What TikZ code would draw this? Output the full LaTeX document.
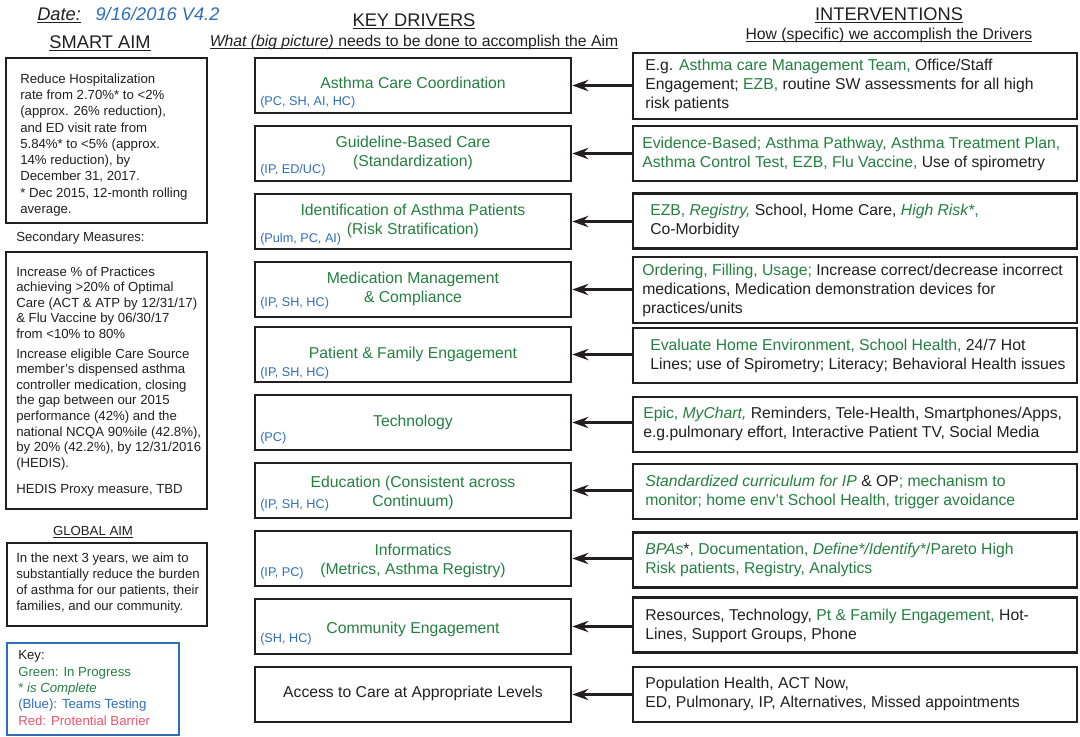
\documentclass[tikz,border=0pt]{standalone}
\usepackage{fontspec}
\setmainfont{Liberation Sans}
\usetikzlibrary{arrows.meta}

\definecolor{ink}{RGB}{35,31,32}
\definecolor{prog}{RGB}{36,128,64}
\definecolor{team}{RGB}{46,110,186}
\definecolor{barrier}{RGB}{236,84,104}

\newcommand{\grn}[1]{\textcolor{prog}{#1}}
\newcommand{\blu}[1]{\textcolor{team}{#1}}
% underline drawn at a fixed depth below the baseline
\newcommand{\ulx}[1]{\setbox0\hbox{#1}\rlap{\rule[-2pt]{\wd0}{0.7pt}}\box0}

\begin{document}
\begin{tikzpicture}[x=0.75pt,y=-0.75pt,
  header/.style={inner sep=0pt, text=ink, font=\fontsize{13.7}{16}\selectfont},
  subheader/.style={inner sep=0pt, text=ink, font=\fontsize{11.8}{14}\selectfont},
  driver/.style={draw=ink, line width=2pt, fill=white, minimum width=237pt,
    minimum height=41.25pt, inner sep=0pt},
  title/.style={inner sep=0pt, align=center, text=prog,
    font=\fontsize{11.8}{14.25}\selectfont},
  action/.style={draw=ink, line width=2pt, fill=white, minimum width=333pt,
    minimum height=41.25pt, inner sep=0pt},
  tall/.style={minimum height=49.5pt},
  actiontext/.style={anchor=west, inner sep=0pt, align=left, text=ink,
    font=\fontsize{11.8}{14.25}\selectfont},
  teamtag/.style={anchor=west, inner sep=0pt, text=team,
    font=\fontsize{9.5}{11}\selectfont},
  aimbox/.style={draw=ink, line width=2pt, fill=white, inner sep=0pt},
  aimtext/.style={anchor=west, align=left, inner sep=0pt, text=ink,
    font=\fontsize{9.9}{12.2}\selectfont},
  link/.style={draw=ink, line width=1.6pt,
    -{Stealth[length=12pt, width=8.5pt, inset=4pt]}}
]
\fill[white] (0,0) rectangle (1080,736);
\useasboundingbox (0,0) rectangle (1080,736);

% ---------- headings ----------
\node[header, anchor=west] (date) at (37,15)
  {\ulx{\textit{Date:}}\hspace{11pt}\textcolor{team}{\textit{9/16/2016 V4.2}}};
\node[header] (smarthead) at (100,43) {\ulx{SMART AIM}};
\node[header] (drvhead) at (414,21) {\ulx{KEY DRIVERS}};
\node[subheader] (drvsub) at (414,42)
  {\ulx{\textit{What (big picture)} needs to be done to accomplish the Aim}};
\node[header] (acthead) at (889,15) {\ulx{INTERVENTIONS}};
\node[subheader] (actsub) at (889,35)
  {\ulx{How (specific) we accomplish the Drivers}};

% ---------- left column: aims and key ----------
\node[aimbox, minimum width=150.75pt, minimum height=123.75pt] (smart) at (106.5,140.5) {};
\node[aimtext] (smarttxt) at (20,145) {Reduce Hospitalization\\
rate from 2.70\%* to <2\%\\
(approx. 26\% reduction),\\
and ED visit rate from\\
5.84\%* to <5\% (approx.\\
14\% reduction), by\\
December 31, 2017.\\
* Dec 2015, 12-month rolling\\
average.};

\node[aimtext] (sechead) at (16,238) {Secondary Measures:};
\node[aimbox, minimum width=150.75pt, minimum height=192.75pt] (second) at (106.5,380.5) {};
\node[aimtext, font=\fontsize{9.9}{11.7}\selectfont] (sectxt) at (16,381.5) {Increase \% of Practices\\
achieving >20\% of Optimal\\
Care (ACT \& ATP by 12/31/17)\\
\& Flu Vaccine by 06/30/17\\
from <10\% to 80\%\\[3pt]
Increase eligible Care Source\\
member's dispensed asthma\\
controller medication, closing\\
the gap between our 2015\\
performance (42\%) and the\\
national NCQA 90\%ile (42.8\%),\\
by 20\% (42.2\%), by 12/31/2016\\
(HEDIS).\\[8pt]
HEDIS Proxy measure, TBD};

\node[inner sep=0pt, text=ink, font=\fontsize{9.9}{12}\selectfont] (globalhead) at (93,532) {\ulx{GLOBAL AIM}};
\node[aimbox, minimum width=150pt, minimum height=62.25pt] (global) at (107,584.5) {};
\node[aimtext, font=\fontsize{9.9}{12}\selectfont] (globaltxt) at (16,583) {In the next 3 years, we aim to\\
substantially reduce the burden\\
of asthma for our patients, their\\
families, and our community.};

\node[draw=team, line width=1.5pt, fill=white, minimum width=129pt, minimum height=69pt, inner sep=0pt] (key) at (93,689) {};
\node[aimtext, font=\fontsize{9.9}{12.2}\selectfont] (keytxt) at (18,688) {Key:\\
\grn{Green: In Progress}\\
\grn{* \textit{is Complete}}\\
\blu{(Blue): Teams Testing}\\
\textcolor{barrier}{Red: Protential Barrier}};

% ---------- key drivers ----------
\node[driver] (d1) at (413,85.5) {};
\node[driver] (d2) at (413,153.5) {};
\node[driver] (d3) at (413,221.5) {};
\node[driver] (d4) at (413,289.5) {};
\node[driver] (d5) at (413,354.5) {};
\node[driver] (d6) at (413,422.5) {};
\node[driver] (d7) at (413,490.5) {};
\node[driver] (d8) at (413,558.5) {};
\node[driver] (d9) at (413,626.5) {};
\node[driver] (d10) at (413,694.5) {};

\node[title] (d1txt) at (413,82.5) {Asthma Care Coordination};
\node[title] (d2txt) at (413,152.5) {Guideline-Based Care\\(Standardization)};
\node[title] (d3txt) at (413,220.5) {Identification of Asthma Patients\\(Risk Stratification)};
\node[title] (d4txt) at (413,288.5) {Medication Management\\\& Compliance};
\node[title] (d5txt) at (413,354.5) {Patient \& Family Engagement};
\node[title] (d6txt) at (413,422.5) {Technology};
\node[title] (d7txt) at (413,493) {Education (Consistent across\\Continuum)};
\node[title] (d8txt) at (413,561) {Informatics\\(Metrics, Asthma Registry)};
\node[title] (d9txt) at (413,629.5) {Community Engagement};
\node[title, text=ink] (d10txt) at (413,693.5) {Access to Care at Appropriate Levels};

\node[teamtag] (t1) at (260,102) {(PC, SH, AI, HC)};
\node[teamtag] (t2) at (260,170) {(IP, ED/UC)};
\node[teamtag] (t3) at (260,239) {(Pulm, PC, AI)};
\node[teamtag] (t4) at (260,303) {(IP, SH, HC)};
\node[teamtag] (t5) at (260,373) {(IP, SH, HC)};
\node[teamtag] (t6) at (260,438) {(PC)};
\node[teamtag] (t7) at (260,505) {(IP, SH, HC)};
\node[teamtag] (t8) at (260,573) {(IP, PC)};
\node[teamtag] (t9) at (260,639) {(SH, HC)};

% ---------- interventions ----------
\node[action, tall] (a1) at (855,86) {};
\node[action] (a2) at (855,153.5) {};
\node[action] (a3) at (855,221) {};
\node[action, tall] (a4) at (855,290) {};
\node[action] (a5) at (855,355.5) {};
\node[action] (a6) at (855,424.5) {};
\node[action] (a7) at (855,491.5) {};
\node[action] (a8) at (855,560) {};
\node[action] (a9) at (855,625) {};
\node[action] (a10) at (855,694.5) {};

\node[actiontext] (a1txt) at (645,85) {E.g. \grn{Asthma care Management Team,} Office/Staff\\
Engagement; \grn{EZB,} routine SW assessments for all high\\
risk patients};
\node[actiontext] (a2txt) at (642,153.5) {\grn{Evidence-Based; Asthma Pathway, Asthma Treatment Plan,}\\
\grn{Asthma Control Test, EZB, Flu Vaccine,} Use of spirometry};
\node[actiontext] (a3txt) at (650,221) {\grn{EZB, \textit{Registry,}} School, Home Care, \grn{\textit{High Risk*},}\\
Co-Morbidity};
\node[actiontext] (a4txt) at (642,290) {\grn{Ordering, Filling, Usage;} Increase correct/decrease incorrect\\
medications, Medication demonstration devices for\\
practices/units};
\node[actiontext] (a5txt) at (650,356) {\grn{Evaluate Home Environment, School Health,} 24/7 Hot\\
Lines; use of Spirometry; Literacy; Behavioral Health issues};
\node[actiontext] (a6txt) at (643,423.5) {\grn{Epic, \textit{MyChart,}} Reminders, Tele-Health, Smartphones/Apps,\\
e.g.pulmonary effort, Interactive Patient TV, Social Media};
\node[actiontext] (a7txt) at (645,491.5) {\grn{\textit{Standardized curriculum for IP}} \& OP\grn{; mechanism to}\\
\grn{monitor; home env't School Health, trigger avoidance}};
\node[actiontext] (a8txt) at (645,559.5) {\grn{\textit{BPAs}}*\grn{, Documentation, \textit{Define*/Identify*}/Pareto High}\\
\grn{Risk patients, Registry, Analytics}};
\node[actiontext] (a9txt) at (645,625.5) {Resources, Technology, \grn{Pt \& Family Engagement,} Hot-\\
Lines, Support Groups, Phone};
\node[actiontext] (a10txt) at (645,694) {Population Health, ACT Now,\\
ED, Pulmonary, IP, Alternatives, Missed appointments};

% ---------- connectors: each intervention feeds its driver ----------
\foreach \i in {1,...,10}
  \draw[link] (a\i.west |- d\i.east) -- (d\i.east);
\end{tikzpicture}
\end{document}
